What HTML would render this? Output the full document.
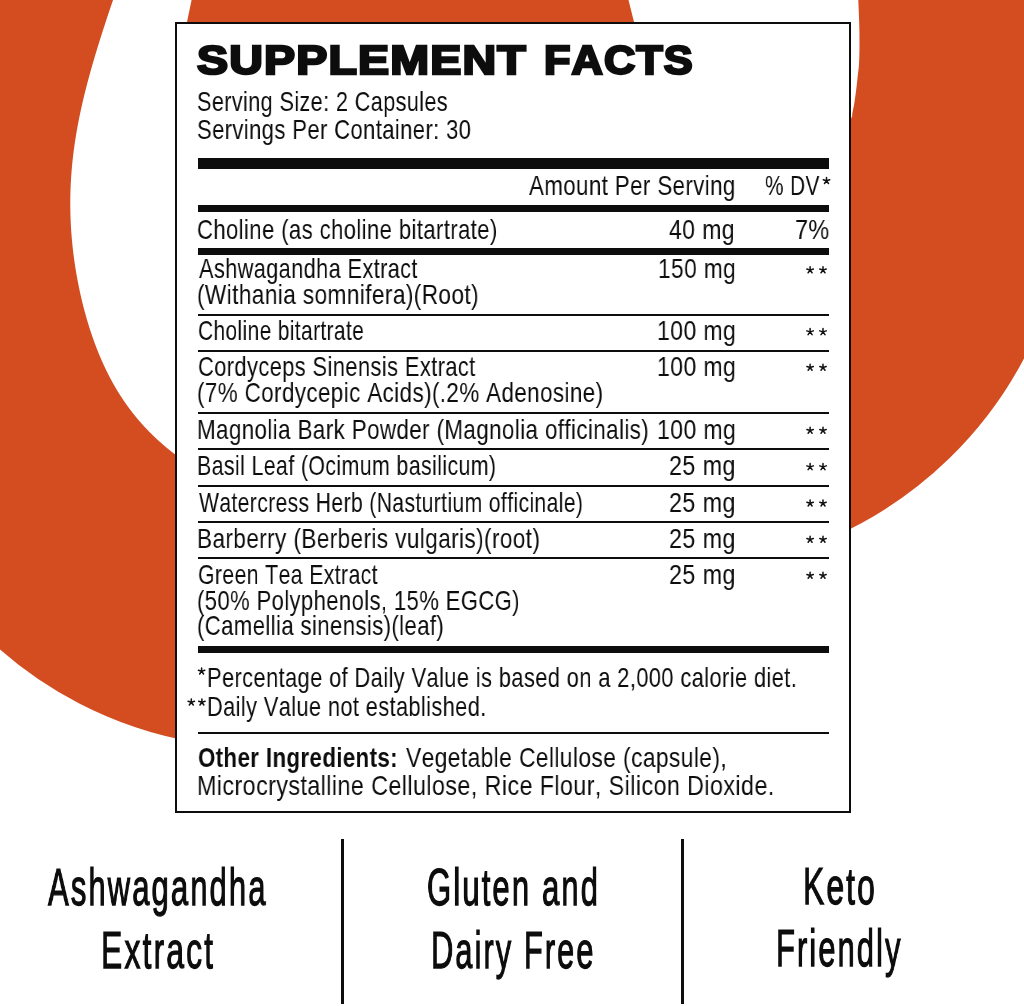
<!DOCTYPE html><html><head><meta charset="utf-8"><style>
html,body{margin:0;padding:0;}body{width:1024px;height:1006px;position:relative;overflow:hidden;background:#fff;font-family:"Liberation Sans",sans-serif;color:#0d0d0d;}
.bg{position:absolute;left:0;top:0;}
.box{position:absolute;background:#fff;border:2px solid #0d0d0d;box-sizing:border-box;}
.r{position:absolute;background:#0d0d0d;}
.t{position:absolute;white-space:pre;line-height:1;transform-origin:0 0;font-kerning:none;-webkit-font-smoothing:antialiased;will-change:transform;}
</style></head><body>
<svg class="bg" width="1024" height="1006" viewBox="0 0 1024 1006"><path fill="#d44d21" d="M-20,-20 L120.03,-20.00 L118.61,-16.00 L117.20,-12.00 L115.80,-8.00 L114.41,-4.00 L113.04,0.00 L111.67,4.00 L110.32,8.00 L108.97,12.00 L107.64,16.00 L106.32,20.00 L105.01,24.00 L103.71,28.00 L102.42,32.00 L101.14,36.00 L99.88,40.00 L98.63,44.00 L97.40,48.00 L96.18,52.00 L94.98,56.00 L93.79,60.00 L92.63,64.00 L91.48,68.00 L90.36,72.00 L89.25,76.00 L88.17,80.00 L87.11,84.00 L86.08,88.00 L85.07,92.00 L84.08,96.00 L83.13,100.00 L82.20,104.00 L81.30,108.00 L80.43,112.00 L79.59,116.00 L78.79,120.00 L78.01,124.00 L77.27,128.00 L76.57,132.00 L75.89,136.00 L75.26,140.00 L74.66,144.00 L74.10,148.00 L73.57,152.00 L73.08,156.00 L72.63,160.00 L72.22,164.00 L71.85,168.00 L71.51,172.00 L71.22,176.00 L70.96,180.00 L70.75,184.00 L70.57,188.00 L70.44,192.00 L70.34,196.00 L70.29,200.00 L70.27,204.00 L70.30,208.00 L70.36,212.00 L70.47,216.00 L70.61,220.00 L70.80,224.00 L71.02,228.00 L71.29,232.00 L71.59,236.00 L71.94,240.00 L72.32,244.00 L72.74,248.00 L73.20,252.00 L73.70,256.00 L74.24,260.00 L74.81,264.00 L75.43,268.00 L76.08,272.00 L76.77,276.00 L77.51,280.00 L78.28,284.00 L79.09,288.00 L79.94,292.00 L80.83,296.00 L81.76,300.00 L82.74,304.00 L83.75,308.00 L84.81,312.00 L85.92,316.00 L87.07,320.00 L88.27,324.00 L89.51,328.00 L90.81,332.00 L92.16,336.00 L93.56,340.00 L95.02,344.00 L96.54,348.00 L98.12,352.00 L99.77,356.00 L101.49,360.00 L103.27,364.00 L105.13,368.00 L107.07,372.00 L109.10,376.00 L111.21,380.00 L113.42,384.00 L115.72,388.00 L118.13,392.00 L120.65,396.00 L123.29,400.00 L126.05,404.00 L128.94,408.00 L131.97,412.00 L135.15,416.00 L138.48,420.00 L141.97,424.00 L145.65,428.00 L149.50,432.00 L153.55,436.00 L157.81,440.00 L162.28,444.00 L166.98,448.00 L171.93,452.00 L177.13,456.00 L182.60,460.00 L188.36,464.00 L195,742.26 A397.40,397.40 0 0 1 -20,630.81 Z"/><path fill="#d44d21" d="M193.7,-10 L626,-10 L636,30 L185.3,30 Z"/><path fill="#d44d21" d="M857.5,-20  C857.6,-16.7 858.0,-8.3 858.3,0.0 C858.6,8.3 859.2,20.0 859.4,30.0 C859.5,40.0 859.6,51.7 859.2,60.0 C858.9,68.3 858.0,73.3 857.3,80.0 C856.6,86.7 855.6,94.5 854.8,100.0 C854.0,105.5 853.1,109.7 852.4,113.0 C851.7,116.3 853.4,113.8 850.5,120.0 C847.6,126.2 837.6,145.0 835.0,150.0 L835,536.27 A398.90,398.90 0 0 0 1030,346.70 L1030,-20 Z"/></svg>
<div class="box" style="left:175px;top:22px;width:676px;height:791px"></div>
<div class="r" style="left:198px;top:158px;width:630.5px;height:11px"></div>
<div class="r" style="left:198px;top:205px;width:630.5px;height:7px"></div>
<div class="r" style="left:198px;top:248px;width:630.5px;height:7px"></div>
<div class="r" style="left:198px;top:313.8px;width:630.5px;height:2px"></div>
<div class="r" style="left:198px;top:349.8px;width:630.5px;height:2px"></div>
<div class="r" style="left:198px;top:412.1px;width:630.5px;height:2px"></div>
<div class="r" style="left:198px;top:448px;width:630.5px;height:2px"></div>
<div class="r" style="left:198px;top:484.9px;width:630.5px;height:2px"></div>
<div class="r" style="left:198px;top:521.2px;width:630.5px;height:2px"></div>
<div class="r" style="left:198px;top:556.9px;width:630.5px;height:2px"></div>
<div class="r" style="left:198px;top:731.6px;width:630.5px;height:2px"></div>
<div class="r" style="left:198px;top:646px;width:630.5px;height:7px"></div>
<div class="r" style="left:340.5px;top:839px;width:3px;height:165px"></div>
<div class="r" style="left:680.5px;top:839px;width:3px;height:164.5px"></div>
<div class="t" id="t0" style="left:197.42px;top:39.71px;font-size:40.5px;transform:scaleX(1.1504);font-weight:bold;-webkit-text-stroke:2.4px #0d0d0d;letter-spacing:1px;">SUPPLEMENT</div>
<div class="t" id="t1" style="left:544.37px;top:39.71px;font-size:40.5px;transform:scaleX(1.0701);font-weight:bold;-webkit-text-stroke:2.4px #0d0d0d;letter-spacing:1px;">FACTS</div>
<div class="t" id="t2" style="left:197.40px;top:88.34px;font-size:28px;transform:scaleX(0.7728);letter-spacing:0.5px;">Serving Size: 2 Capsules</div>
<div class="t" id="t3" style="left:197.38px;top:116.49px;font-size:28px;transform:scaleX(0.7858);letter-spacing:0.5px;">Servings Per Container: 30</div>
<div class="t" id="t4" style="left:529.00px;top:172.39px;font-size:28px;transform:scaleX(0.7961);letter-spacing:0.5px;">Amount Per Serving</div>
<div class="t" id="t5" style="left:765.36px;top:172.39px;font-size:28px;transform:scaleX(0.7433);letter-spacing:0.5px;">% DV</div>
<div class="t" id="t7" style="left:197.30px;top:216.39px;font-size:28px;transform:scaleX(0.7886);letter-spacing:0.5px;">Choline (as choline bitartrate)</div>
<div class="t" id="t8" style="left:669.18px;top:216.39px;font-size:28px;transform:scaleX(0.8207);letter-spacing:0.5px;">40 mg</div>
<div class="t" id="t9" style="left:795.17px;top:216.39px;font-size:28px;transform:scaleX(0.8336);letter-spacing:0.5px;">7%</div>
<div class="t" id="t10" style="left:198.52px;top:255.49px;font-size:28px;transform:scaleX(0.7765);letter-spacing:0.5px;">Ashwagandha Extract</div>
<div class="t" id="t11" style="left:196.90px;top:281.19px;font-size:28px;transform:scaleX(0.8078);letter-spacing:0.5px;">(Withania somnifera)(Root)</div>
<div class="t" id="t12" style="left:657.98px;top:255.49px;font-size:28px;transform:scaleX(0.8105);letter-spacing:0.5px;">150 mg</div>
<div class="t" id="t14" style="left:197.98px;top:317.29px;font-size:28px;transform:scaleX(0.7474);letter-spacing:0.5px;">Choline bitartrate</div>
<div class="t" id="t15" style="left:656.95px;top:317.29px;font-size:28px;transform:scaleX(0.8219);letter-spacing:0.5px;">100 mg</div>
<div class="t" id="t17" style="left:197.91px;top:352.89px;font-size:28px;transform:scaleX(0.7813);letter-spacing:0.5px;">Cordyceps Sinensis Extract</div>
<div class="t" id="t18" style="left:196.92px;top:378.59px;font-size:28px;transform:scaleX(0.7997);letter-spacing:0.5px;">(7% Cordycepic Acids)(.2% Adenosine)</div>
<div class="t" id="t19" style="left:656.95px;top:352.89px;font-size:28px;transform:scaleX(0.8219);letter-spacing:0.5px;">100 mg</div>
<div class="t" id="t21" style="left:196.92px;top:415.89px;font-size:28px;transform:scaleX(0.7986);letter-spacing:0.5px;">Magnolia Bark Powder (Magnolia officinalis)</div>
<div class="t" id="t22" style="left:656.95px;top:415.89px;font-size:28px;transform:scaleX(0.8219);letter-spacing:0.5px;">100 mg</div>
<div class="t" id="t24" style="left:197.00px;top:452.29px;font-size:28px;transform:scaleX(0.7625);letter-spacing:0.5px;">Basil Leaf (Ocimum basilicum)</div>
<div class="t" id="t25" style="left:668.71px;top:452.29px;font-size:28px;transform:scaleX(0.8311);letter-spacing:0.5px;">25 mg</div>
<div class="t" id="t27" style="left:198.53px;top:488.69px;font-size:28px;transform:scaleX(0.7541);letter-spacing:0.5px;">Watercress Herb (Nasturtium officinale)</div>
<div class="t" id="t28" style="left:668.71px;top:488.69px;font-size:28px;transform:scaleX(0.8311);letter-spacing:0.5px;">25 mg</div>
<div class="t" id="t30" style="left:196.91px;top:524.89px;font-size:28px;transform:scaleX(0.8055);letter-spacing:0.5px;">Barberry (Berberis vulgaris)(root)</div>
<div class="t" id="t31" style="left:668.71px;top:524.89px;font-size:28px;transform:scaleX(0.8311);letter-spacing:0.5px;">25 mg</div>
<div class="t" id="t33" style="left:197.77px;top:560.89px;font-size:28px;transform:scaleX(0.7583);letter-spacing:0.5px;">Green Tea Extract</div>
<div class="t" id="t34" style="left:196.94px;top:586.59px;font-size:28px;transform:scaleX(0.7869);letter-spacing:0.5px;">(50% Polyphenols, 15% EGCG)</div>
<div class="t" id="t35" style="left:196.94px;top:612.29px;font-size:28px;transform:scaleX(0.7901);letter-spacing:0.5px;">(Camellia sinensis)(leaf)</div>
<div class="t" id="t36" style="left:668.71px;top:560.89px;font-size:28px;transform:scaleX(0.8311);letter-spacing:0.5px;">25 mg</div>
<div class="t" id="t39" style="left:207.48px;top:663.69px;font-size:28px;transform:scaleX(0.7802);letter-spacing:0.5px;">Percentage of Daily Value is based on a 2,000 calorie diet.</div>
<div class="t" id="t41" style="left:207.49px;top:693.29px;font-size:28px;transform:scaleX(0.7778);letter-spacing:0.5px;">Daily Value not established.</div>
<div class="t" id="t42" style="left:197.73px;top:743.59px;font-size:28px;transform:scaleX(0.7946);font-weight:bold;letter-spacing:0.5px;">Other Ingredients:</div>
<div class="t" id="t43" style="left:405.58px;top:743.59px;font-size:28px;transform:scaleX(0.8133);letter-spacing:0.5px;">Vegetable Cellulose (capsule),</div>
<div class="t" id="t44" style="left:197.34px;top:771.89px;font-size:28px;transform:scaleX(0.8324);letter-spacing:0.5px;">Microcrystalline Cellulose, Rice Flour, Silicon Dioxide.</div>
<div class="t" id="t45" style="left:48.39px;top:860.67px;font-size:52px;transform:scaleX(0.5965);-webkit-text-stroke:1.25px #0d0d0d;letter-spacing:3.5px;">Ashwagandha</div>
<div class="t" id="t46" style="left:100.55px;top:923.77px;font-size:52px;transform:scaleX(0.6132);-webkit-text-stroke:1.25px #0d0d0d;letter-spacing:3.5px;">Extract</div>
<div class="t" id="t47" style="left:427.19px;top:860.77px;font-size:52px;transform:scaleX(0.5981);-webkit-text-stroke:1.25px #0d0d0d;letter-spacing:3.5px;">Gluten and</div>
<div class="t" id="t48" style="left:430.51px;top:923.97px;font-size:52px;transform:scaleX(0.5926);-webkit-text-stroke:1.25px #0d0d0d;letter-spacing:3.5px;">Dairy Free</div>
<div class="t" id="t49" style="left:802.68px;top:860.27px;font-size:52px;transform:scaleX(0.6115);-webkit-text-stroke:1.25px #0d0d0d;letter-spacing:3.5px;">Keto</div>
<div class="t" id="t50" style="left:775.77px;top:922.47px;font-size:52px;transform:scaleX(0.5942);-webkit-text-stroke:1.25px #0d0d0d;letter-spacing:3.5px;">Friendly</div>
<svg class="bg" width="1024" height="1006" viewBox="0 0 1024 1006"><path d="M826.50,180.80L826.50,177.45M826.50,180.80L829.69,179.76M826.50,180.80L828.47,183.51M826.50,180.80L824.53,183.51M826.50,180.80L823.31,179.76M810.10,270.10L810.10,266.75M810.10,270.10L813.29,269.06M810.10,270.10L812.07,272.81M810.10,270.10L808.13,272.81M810.10,270.10L806.91,269.06M823.00,270.10L823.00,266.75M823.00,270.10L826.19,269.06M823.00,270.10L824.97,272.81M823.00,270.10L821.03,272.81M823.00,270.10L819.81,269.06M810.10,331.90L810.10,328.55M810.10,331.90L813.29,330.86M810.10,331.90L812.07,334.61M810.10,331.90L808.13,334.61M810.10,331.90L806.91,330.86M823.00,331.90L823.00,328.55M823.00,331.90L826.19,330.86M823.00,331.90L824.97,334.61M823.00,331.90L821.03,334.61M823.00,331.90L819.81,330.86M810.10,367.50L810.10,364.15M810.10,367.50L813.29,366.46M810.10,367.50L812.07,370.21M810.10,367.50L808.13,370.21M810.10,367.50L806.91,366.46M823.00,367.50L823.00,364.15M823.00,367.50L826.19,366.46M823.00,367.50L824.97,370.21M823.00,367.50L821.03,370.21M823.00,367.50L819.81,366.46M810.10,430.50L810.10,427.15M810.10,430.50L813.29,429.46M810.10,430.50L812.07,433.21M810.10,430.50L808.13,433.21M810.10,430.50L806.91,429.46M823.00,430.50L823.00,427.15M823.00,430.50L826.19,429.46M823.00,430.50L824.97,433.21M823.00,430.50L821.03,433.21M823.00,430.50L819.81,429.46M810.10,466.90L810.10,463.55M810.10,466.90L813.29,465.86M810.10,466.90L812.07,469.61M810.10,466.90L808.13,469.61M810.10,466.90L806.91,465.86M823.00,466.90L823.00,463.55M823.00,466.90L826.19,465.86M823.00,466.90L824.97,469.61M823.00,466.90L821.03,469.61M823.00,466.90L819.81,465.86M810.10,503.30L810.10,499.95M810.10,503.30L813.29,502.26M810.10,503.30L812.07,506.01M810.10,503.30L808.13,506.01M810.10,503.30L806.91,502.26M823.00,503.30L823.00,499.95M823.00,503.30L826.19,502.26M823.00,503.30L824.97,506.01M823.00,503.30L821.03,506.01M823.00,503.30L819.81,502.26M810.10,539.50L810.10,536.15M810.10,539.50L813.29,538.46M810.10,539.50L812.07,542.21M810.10,539.50L808.13,542.21M810.10,539.50L806.91,538.46M823.00,539.50L823.00,536.15M823.00,539.50L826.19,538.46M823.00,539.50L824.97,542.21M823.00,539.50L821.03,542.21M823.00,539.50L819.81,538.46M810.10,575.50L810.10,572.15M810.10,575.50L813.29,574.46M810.10,575.50L812.07,578.21M810.10,575.50L808.13,578.21M810.10,575.50L806.91,574.46M823.00,575.50L823.00,572.15M823.00,575.50L826.19,574.46M823.00,575.50L824.97,578.21M823.00,575.50L821.03,578.21M823.00,575.50L819.81,574.46M201.60,671.30L201.60,667.95M201.60,671.30L204.79,670.26M201.60,671.30L203.57,674.01M201.60,671.30L199.63,674.01M201.60,671.30L198.41,670.26M191.30,702.30L191.30,698.95M191.30,702.30L194.49,701.26M191.30,702.30L193.27,705.01M191.30,702.30L189.33,705.01M191.30,702.30L188.11,701.26M201.90,702.30L201.90,698.95M201.90,702.30L205.09,701.26M201.90,702.30L203.87,705.01M201.90,702.30L199.93,705.01M201.90,702.30L198.71,701.26" stroke="#111" stroke-width="1.5" stroke-linecap="round" fill="none"/></svg>
</body></html>
